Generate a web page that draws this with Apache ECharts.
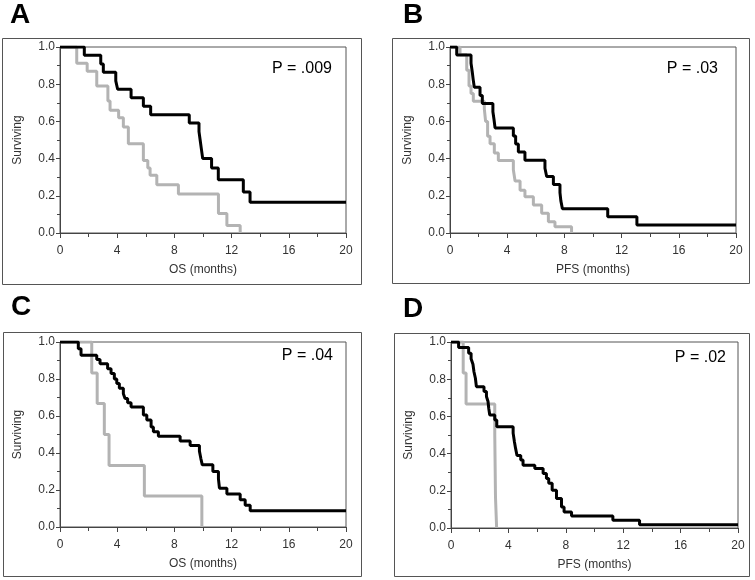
<!DOCTYPE html>
<html><head><meta charset="utf-8">
<script src="https://cdn.jsdelivr.net/npm/echarts@6/dist/echarts.min.js"></script>
<style>html,body{margin:0;padding:0;background:#fff}#c{width:755px;height:580px}</style>
</head><body><div id="c"></div>
<script>
// ---- data ----
const panelLetters = ['A', 'B', 'C', 'D'];
const pLabels = ['P = .009', 'P = .03', 'P = .04', 'P = .02'];
const xTitles = ['OS (months)', 'PFS (months)', 'OS (months)', 'PFS (months)'];
const yTitle = 'Surviving';

const aBlack = [[0,1],[1.7,0.955],[2.85,0.909],[3.03,0.864],[3.9,0.818],[4.03,0.773],[4.97,0.727],[5.83,0.682],[6.34,0.636],[9.04,0.591],[9.72,0.545],[9.8,0.5],[9.88,0.455],[9.98,0.40],[10.6,0.35],[11.07,0.286],[12.82,0.22],[13.29,0.165],[20,0.165]];
const aGray = [[0,1],[1.17,0.913],[1.9,0.87],[2.57,0.79],[3.35,0.71],[3.5,0.66],[4.1,0.62],[4.43,0.57],[4.78,0.48],[5.83,0.39],[6.14,0.35],[6.3,0.31],[6.77,0.26],[8.28,0.21],[11.08,0.105],[11.67,0.04],[12.6,0]];

const bBlack = [[0,1],[0.47,0.957],[1.47,0.913],[1.55,0.87],[1.62,0.826],[1.7,0.783],[2.1,0.739],[2.26,0.696],[3.0,0.652],[3.08,0.609],[3.15,0.565],[4.43,0.522],[4.59,0.478],[4.78,0.435],[5.24,0.391],[6.64,0.348],[6.76,0.304],[7.23,0.261],[7.69,0.217],[7.75,0.174],[7.86,0.13],[11.03,0.087],[13.07,0.043],[20,0.043]];
const bGray = [[0,1],[0.7,0.958],[1.17,0.875],[1.33,0.79],[1.47,0.75],[1.63,0.708],[2.4,0.667],[2.49,0.60],[2.63,0.52],[2.8,0.48],[3.1,0.43],[3.38,0.39],[4.43,0.34],[4.55,0.28],[4.9,0.23],[5.24,0.195],[5.83,0.15],[6.41,0.106],[6.88,0.06],[7.34,0.034],[8.5,0]];

const cBlack = [[0,1],[1.28,0.964],[1.47,0.928],[2.57,0.906],[2.8,0.883],[3.33,0.856],[3.57,0.83],[3.8,0.80],[3.97,0.776],[4.15,0.75],[4.43,0.72],[4.55,0.695],[4.73,0.672],[4.97,0.648],[5.83,0.605],[6.07,0.578],[6.37,0.54],[6.53,0.515],[6.88,0.49],[8.4,0.465],[9.1,0.44],[9.75,0.41],[9.85,0.37],[9.95,0.336],[10.69,0.30],[11.08,0.26],[11.15,0.21],[11.67,0.178],[12.6,0.147],[12.95,0.118],[13.3,0.088],[20,0.088]];
const cGray = [[0,1],[2.22,0.833],[2.6,0.667],[3.1,0.5],[3.43,0.333],[5.9,0.167],[9.92,0]];

const dBlack = [[0,1],[0.53,0.97],[1.23,0.94],[1.4,0.91],[1.53,0.88],[1.6,0.84],[1.7,0.805],[1.77,0.76],[2.3,0.734],[2.47,0.707],[2.58,0.68],[2.63,0.644],[2.7,0.608],[3.05,0.58],[3.19,0.545],[4.33,0.51],[4.42,0.464],[4.5,0.428],[4.6,0.39],[4.86,0.365],[5.02,0.338],[5.84,0.32],[6.42,0.293],[6.65,0.266],[6.81,0.24],[7.05,0.203],[7.35,0.158],[7.7,0.113],[7.88,0.086],[8.4,0.065],[11.28,0.041],[13.14,0.018],[20,0.018]];
const dGray = [[0,1],[0.85,0.833],[1.05,0.667],[3.05,0.5],[3.1,0.167],[3.18,0]];

// ---- chart ----
const blackSeries = [aBlack, bBlack, cBlack, dBlack];
const graySeries = [aGray, bGray, cGray, dGray];
const FONT = '"Liberation Sans", Arial, sans-serif';
const gridsPos = [
  {left: 60, top: 47, width: 286, height: 186},
  {left: 450, top: 47, width: 286, height: 186},
  {left: 60, top: 342, width: 286, height: 185},
  {left: 451, top: 342, width: 287, height: 186}
];
const boxes = [
  {x: 2.5, y: 38.5, width: 359, height: 246},
  {x: 392.5, y: 38.5, width: 357, height: 245},
  {x: 3.5, y: 332.5, width: 358, height: 244},
  {x: 394.5, y: 333.5, width: 355, height: 243}
];
const letterPos = [[10, 15], [403, 15], [11, 307], [403, 309]];
const pPos = [[332, 69], [718, 69], [333, 356], [726, 358]];

const axisColor = '#444';
const grid = [], xAxis = [], yAxis = [], series = [], graphic = [];
for (let i = 0; i < 4; i++) {
  grid.push(Object.assign({show: true, borderColor: '#555', borderWidth: 1, backgroundColor: 'transparent', containLabel: false}, gridsPos[i]));
  xAxis.push({
    type: 'value', gridIndex: i, min: 0, max: 20, interval: 4,
    name: xTitles[i], nameLocation: 'middle', nameGap: 31,
    nameTextStyle: {fontFamily: FONT, fontSize: 12, color: '#333'},
    axisLine: {show: true, lineStyle: {color: axisColor, width: 1}},
    axisTick: {show: true, length: 5, lineStyle: {color: axisColor}},
    minorTick: {show: true, splitNumber: 2, length: 4, lineStyle: {color: axisColor}},
    splitLine: {show: false},
    axisLabel: {fontFamily: FONT, fontSize: 12, color: '#333', margin: 12}
  });
  yAxis.push({
    type: 'value', gridIndex: i, min: 0, max: 1, interval: 0.2,
    name: yTitle, nameLocation: 'middle', nameGap: 36, nameRotate: 90,
    nameTextStyle: {fontFamily: FONT, fontSize: 12, color: '#333'},
    axisLine: {show: true, lineStyle: {color: axisColor, width: 1}},
    axisTick: {show: true, length: 4, lineStyle: {color: axisColor}},
    minorTick: {show: true, splitNumber: 2, length: 3, lineStyle: {color: axisColor}},
    splitLine: {show: false},
    axisLabel: {fontFamily: FONT, fontSize: 12, color: '#333', margin: 5, formatter: v => v.toFixed(1)}
  });
  series.push({
    type: 'line', xAxisIndex: i, yAxisIndex: i, step: 'end', showSymbol: false, symbol: 'none',
    data: graySeries[i], lineStyle: {color: '#b3b3b3', width: 3}, itemStyle: {color: '#b3b3b3'}, z: 2, silent: true
  });
  series.push({
    type: 'line', xAxisIndex: i, yAxisIndex: i, step: 'end', showSymbol: false, symbol: 'none',
    data: blackSeries[i], lineStyle: {color: '#000', width: 3}, itemStyle: {color: '#000'}, z: 3, silent: true
  });
  graphic.push({type: 'rect', shape: boxes[i], style: {fill: 'none', stroke: '#555', lineWidth: 1}, silent: true});
  graphic.push({type: 'text', x: letterPos[i][0], y: letterPos[i][1],
    style: {text: panelLetters[i], font: 'bold 28px ' + FONT, fill: '#000', textAlign: 'left', textVerticalAlign: 'middle', verticalAlign: 'middle'}});
  graphic.push({type: 'text', x: pPos[i][0], y: pPos[i][1],
    style: {text: pLabels[i], font: '16px ' + FONT, fill: '#000', textAlign: 'right', textVerticalAlign: 'middle', verticalAlign: 'middle'}});
}

const chart = echarts.init(document.getElementById('c'), null, {renderer: 'canvas'});
chart.setOption({animation: false, backgroundColor: '#fff', grid, xAxis, yAxis, series, graphic});
</script>
</body></html>
